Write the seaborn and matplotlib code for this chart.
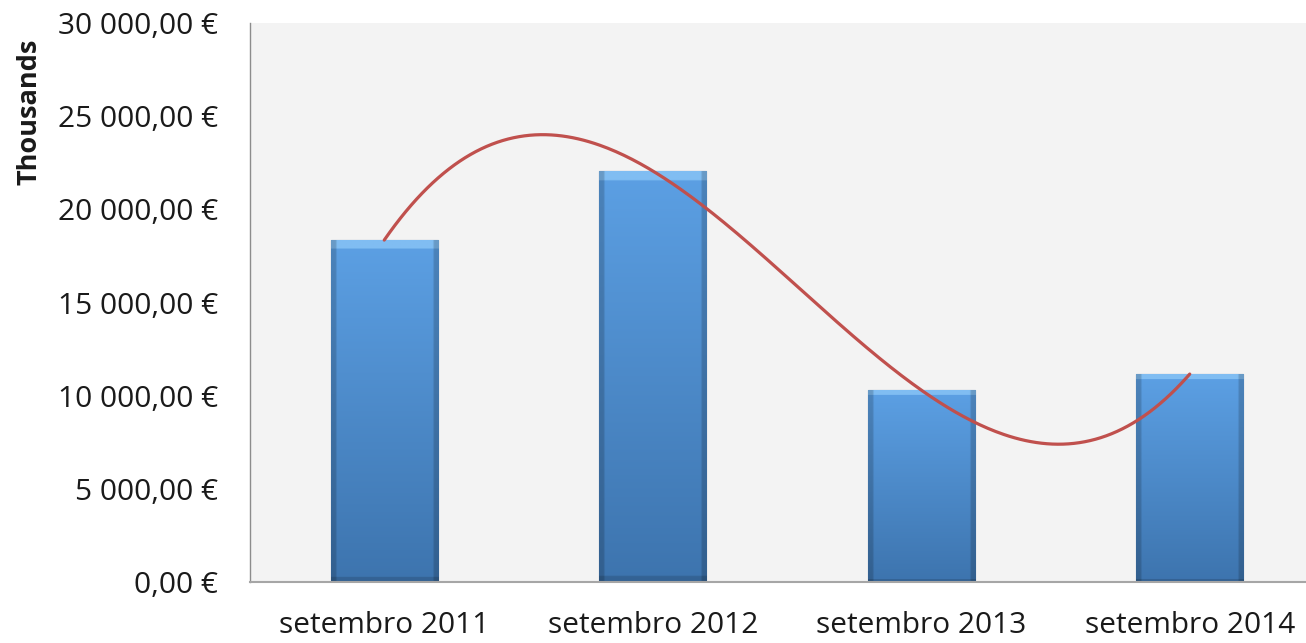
import numpy as np
import pandas as pd
import matplotlib
matplotlib.use("Agg")
import matplotlib.pyplot as plt
import seaborn as sns
from matplotlib.ticker import FuncFormatter, MultipleLocator

months = ["setembro 2011", "setembro 2012", "setembro 2013", "setembro 2014"]
values = [18350, 22060, 10300, 11160]

sns.set_style("white")
plt.rcParams["font.family"] = ["Open Sans", "DejaVu Sans"]

df = pd.DataFrame({"Mes": months, "Valor": values})

fig = plt.figure(figsize=(13.06, 6.43), dpi=100)
ax = fig.add_axes([250 / 1306, 61 / 643, 1074 / 1306, 559 / 643])
ax.set_facecolor("#f3f3f3")

sns.barplot(data=df, x="Mes", y="Valor", ax=ax, width=0.4,
            color="#4a91d9", edgecolor="#2f5f90", linewidth=0.8, saturation=1)

# gradient fill on the bars (excel style)
top = np.array([0x5c, 0xa0, 0xe4]) / 255
bot = np.array([0x3d, 0x74, 0xae]) / 255
rows = np.linspace(0, 1, 200)[:, None]
grad = top * (1 - rows) + bot * rows
grad = np.repeat(grad[:, None, :], 40, axis=1)
grad[:5] = np.array([0x80, 0xbd, 0xf2]) / 255
grad[:, :2] *= 0.82
grad[:, -2:] *= 0.82
grad[-3:] *= 0.85
for p in ax.patches:
    x0, y0 = p.get_x(), p.get_y()
    w, h = p.get_width(), p.get_height()
    im = ax.imshow(grad, extent=[x0, x0 + w, y0, y0 + h], aspect="auto",
                   origin="upper", zorder=p.get_zorder() + 0.1)
    im.set_clip_path(p)

# polynomial trendline (order 3)
xs = np.arange(len(values))
coef = np.polyfit(xs, values, 3)
xx = np.linspace(0, len(values) - 1, 300)
ax.plot(xx, np.polyval(coef, xx), color="#c0504d", lw=2.3, zorder=5)

ax.set_xlim(-0.5, 3.5)
ax.set_ylim(0, 30000)
ax.yaxis.set_major_locator(MultipleLocator(5000))
fmt = lambda v, pos: "{:,.2f}".format(v).replace(",", " ").replace(".", ",") + " €"
ax.yaxis.set_major_formatter(FuncFormatter(fmt))
ax.tick_params(axis="both", length=0, labelsize=21.5, colors="#1a1a1a")
ax.tick_params(axis="y", pad=23)
ax.tick_params(axis="x", pad=21)
ax.set_xlabel("")
ax.set_ylabel("")

for s in ["top", "right"]:
    ax.spines[s].set_visible(False)
ax.spines["left"].set_color("#8c8c8c")
ax.spines["bottom"].set_color("#a6a6a6")
ax.spines["left"].set_linewidth(1)
ax.spines["bottom"].set_linewidth(1.5)

fig.text(30 / 1306, 1 - 112 / 643, "Thousands", rotation=90, ha="center", va="center",
         fontsize=19.5, fontweight="bold", color="#1a1a1a")

fig.savefig("out.png", dpi=100)
